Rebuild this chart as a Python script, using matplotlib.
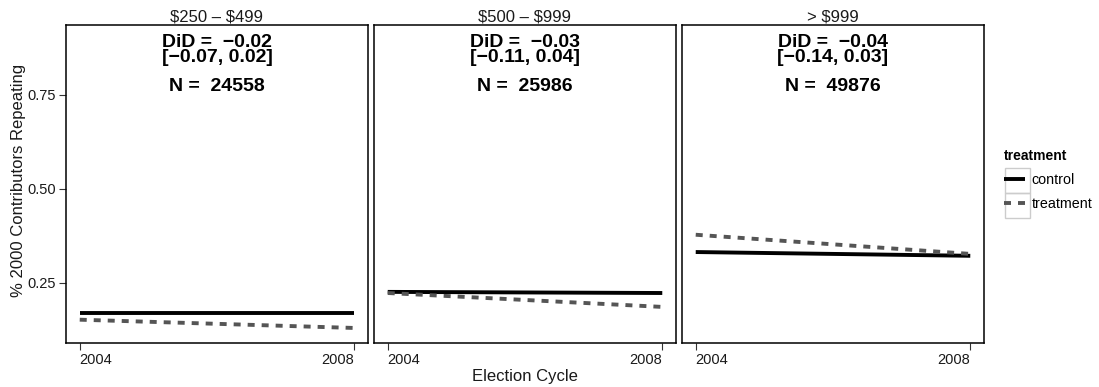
import matplotlib
matplotlib.use("Agg")
import matplotlib.pyplot as plt
from matplotlib.patches import Rectangle

plt.rcParams['font.family'] = ['Liberation Sans', 'DejaVu Sans']
plt.rcParams['text.parse_math'] = False

years = [2004, 2008]
panels = ["$250 \u2013 $499", "$500 \u2013 $999", "> $999"]
control = [[0.170, 0.170], [0.226, 0.223], [0.332, 0.322]]
treatment = [[0.152, 0.130], [0.223, 0.186], [0.378, 0.327]]
did = ["\u22120.02", "\u22120.03", "\u22120.04"]
ci = ["[\u22120.07, 0.02]", "[\u22120.11, 0.04]", "[\u22120.14, 0.03]"]
ns = [24558, 25986, 49876]
yticks = [0.25, 0.50, 0.75]

W, H = 1099, 387
fig = plt.figure(figsize=(W / 100, H / 100), dpi=100)

lefts = [66, 374, 682]
pw = 302
top, bot = 25, 343

axes = []
for i in range(3):
    ax = fig.add_axes([lefts[i] / W, (H - bot) / H, pw / W, (bot - top) / H])
    axes.append(ax)
    lc, = ax.plot(years, control[i], color='black', lw=2.8, solid_capstyle='butt', label='control')
    lt, = ax.plot(years, treatment[i], color='#555555', lw=2.8, linestyle=(0, (1.8, 1.8)),
                  dash_capstyle='butt', label='treatment')
    ax.set_xlim(2003.8, 2008.2)
    ax.set_ylim(0.090, 0.936)
    ax.set_xticks(years)
    ax.set_xticklabels([str(y) for y in years])
    labs = ax.get_xticklabels()
    labs[0].set_horizontalalignment('left')
    labs[1].set_horizontalalignment('right')
    ax.tick_params(axis='x', direction='out', length=5, width=0.8, color='#333333',
                   labelsize=10.5, labelcolor='#1a1a1a', pad=2)
    if i == 0:
        ax.set_yticks(yticks)
        ax.set_yticklabels(["%.2f" % v for v in yticks])
        ax.tick_params(axis='y', direction='out', length=5, width=0.8, color='#333333',
                       labelsize=10.5, labelcolor='#1a1a1a', pad=2)
    else:
        ax.set_yticks([])
    for s in ax.spines.values():
        s.set_linewidth(1.1)
        s.set_color('black')
    ax.set_title(panels[i], fontsize=12, pad=2.2, color='#1a1a1a')
    xc = (years[0] + years[1]) / 2
    ax.text(xc, 0.869, "DiD =  " + did[i] + "\n" + ci[i], ha='center', va='center',
            fontsize=14, linespacing=0.85, color='black', fontweight='bold')
    ax.text(xc, 0.772, "N =  %d" % ns[i], ha='center', va='center', fontsize=14,
            color='black', fontweight='bold')

handles = [lc, lt]

fig.text(19 / W, 1 - 180 / H, "% 2000 Contributors Repeating", rotation=90,
         ha='center', va='center', fontsize=12, color='#1a1a1a')
fig.text(525 / W, 1 - 377 / H, "Election Cycle", ha='center', va='center',
         fontsize=12, color='#1a1a1a')

leg = fig.legend(handles=handles, labels=['control', 'treatment'],
                 loc='upper left', bbox_to_anchor=(1001 / W, 1 - 146 / H),
                 frameon=False, fontsize=10.3, handlelength=1.5, handletextpad=0.45,
                 labelspacing=0.72, borderaxespad=0, borderpad=0.2,
                 title='treatment', alignment='left',
                 title_fontproperties={'weight': 'bold', 'size': 10})

for k in range(2):
    fig.patches.append(Rectangle(((1005) / W, 1 - (193 + 25 * k) / H), 25 / W, 25 / H,
                                 transform=fig.transFigure, fill=False,
                                 edgecolor='#cccccc', lw=1.0))

fig.savefig("out.png", dpi=100)
